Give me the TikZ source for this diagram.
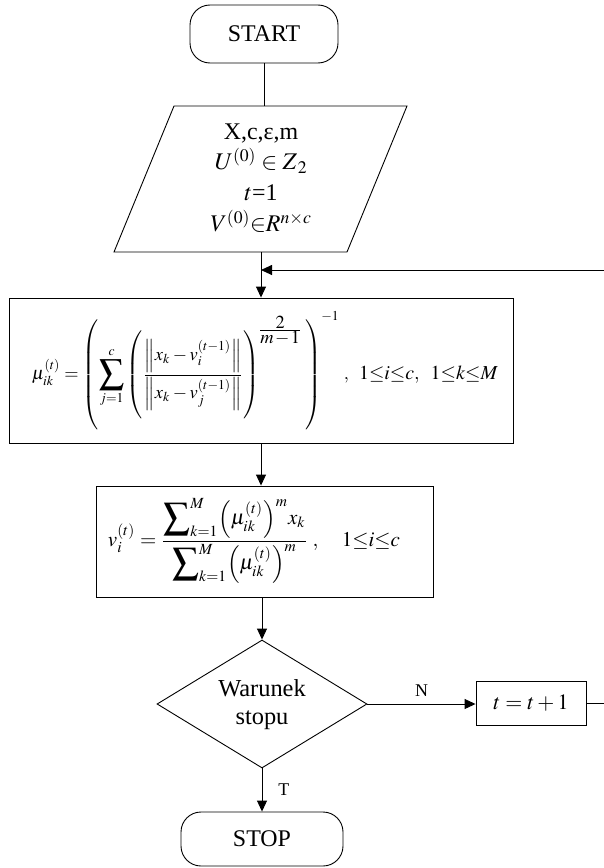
\documentclass[tikz,border=0pt]{standalone}
\usepackage{graphicx}
\usepackage{mathptmx}
\usepackage{fontspec}
\setmainfont{Liberation Serif}
\usetikzlibrary{arrows.meta,shapes.geometric}
\newcommand{\mybigsum}[1]{\mathop{\vcenter{\hbox{\scalebox{#1}{$\displaystyle\sum$}}}}}
\tikzset{
  ln/.style={line width=0.9bp},
  arr/.style={ln,-{Triangle[length=11bp,width=10bp]}},
  term/.style={draw,ln,rounded corners=20bp,inner sep=0,font=\fontsize{24}{28}\selectfont},
  box/.style={draw,ln,inner sep=0},
  lbl/.style={inner sep=0,font=\fontsize{18}{20}\selectfont},
}
\begin{document}
\begin{tikzpicture}[x=1bp,y=-1bp]
\useasboundingbox (0,0) rectangle (604,868);
% START
\node[term,minimum width=148bp,minimum height=58bp] (start) at (264,34) {START};
% input parallelogram
\draw[ln] (174,106) -- (407,106) -- (347,252) -- (114,252) -- cycle;
\coordinate (pin) at (264,106);
\coordinate (pout) at (261,252);
\node[align=center,font=\fontsize{24}{31}\selectfont] (in) at (261,178)
  {X,c,ε,m\\ $U^{(0)}\in Z_{\,2}$\\ $t$=1\\ $V^{(0)}{\in}R^{n\times c}$};
\draw[ln] (start.south) -- (pin);
% mu box
\node[box,minimum width=504bp,minimum height=145bp] (mu) at (261,370.5) {};
\node[inner sep=0] (muf) at (265,371) {\resizebox{466bp}{!}{$\displaystyle
  \mu_{ik}^{(t)}=\left(\mybigsum{1.35}\limits_{j=1}^{c}\left(\rule[-23pt]{0pt}{51pt}\frac{\left\|x_k-v_i^{(t-1)}\right\|}{\left\|x_k-v_j^{(t-1)}\right\|}\right)^{\!\frac{\textstyle 2}{\textstyle m\mkern-1mu-\mkern-1mu1}}\,\right)^{-1}\,,\;\;\mbox{\scalebox{1.08}{$1{\le}i{\le}c,\;\;1{\le}k{\le}M$}}$}};
\draw[arr] (pout) -- (mu.north);
\coordinate (fb) at (604,270);
\draw[arr] (fb) -- (fb -| mu.north);
% v box
\node[box,minimum width=337bp,minimum height=111bp] (vb) at (264.5,541.5) {};
\node[inner sep=0] (vf) at (254,541) {\resizebox{292bp}{!}{$\displaystyle
  v_i^{(t)}=\frac{\mybigsum{1.25}\nolimits_{k=1}^{M}\Bigl(\mu_{ik}^{(t)}\Bigr)^{m}x_k}{\mybigsum{1.25}\nolimits_{k=1}^{M}\Bigl(\mu_{ik}^{(t)}\Bigr)^{m}}\;,\quad 1{\le}i{\le}c$}};
\draw[arr] (mu.south) -- (mu.south |- vb.north);
% decision
\node[draw,ln,diamond,minimum width=210bp,minimum height=128bp,inner sep=0] (dec) at (262,704) {};
\node[align=center,font=\fontsize{24.5}{28}\selectfont] (dect) at (262,705) {Warunek\\stopu};
\draw[arr] (vb.south -| dec.north) -- (dec.north);
% t = t+1
\node[box,minimum width=110bp,minimum height=44bp,font=\fontsize{22}{26}\selectfont] (tb) at (531,703) {$t=t+1$};
\draw[arr] (dec.east) -- (dec.east -| tb.west) node[lbl,midway,above=7bp] (nl) {N};
\coordinate (fbr) at (604,703);
\draw[ln] (tb.east) -- (fbr);
% STOP
\node[term,minimum width=162bp,minimum height=54bp] (stop) at (262,839) {STOP};
\draw[arr] (dec.south) -- (stop.north) node[lbl,midway,right=16bp] (tl) {T};
\end{tikzpicture}
\end{document}
